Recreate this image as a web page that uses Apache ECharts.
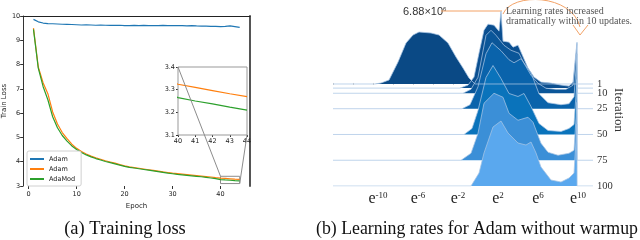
<!DOCTYPE html>
<html><head><meta charset="utf-8">
<script src="https://cdn.jsdelivr.net/npm/echarts@6/dist/echarts.min.js"></script>
<style>html,body{margin:0;padding:0;background:#fff}#c{width:640px;height:240px}</style>
</head><body><div id="c"></div>
<script>
// ---------- data: (a) training loss ----------
const epochs = [1,2,3,4,5,6,7,8,9,10,11,12,13,14,15,16,17,18,19,20,21,22,23,24,25,26,27,28,29,30,31,32,33,34,35,36,37,38,39,40,41,42,43,44];
const adamBlue = [9.86,9.76,9.71,9.69,9.68,9.67,9.66,9.655,9.65,9.64,9.63,9.635,9.63,9.62,9.63,9.62,9.615,9.61,9.62,9.60,9.605,9.61,9.60,9.61,9.60,9.605,9.60,9.61,9.60,9.60,9.605,9.60,9.595,9.60,9.59,9.585,9.58,9.575,9.57,9.565,9.575,9.59,9.56,9.53];
const adamOrange = [9.50,7.90,7.25,6.80,6.05,5.55,5.20,4.95,4.72,4.55,4.42,4.32,4.23,4.16,4.10,4.04,3.99,3.94,3.88,3.83,3.79,3.76,3.73,3.70,3.67,3.64,3.61,3.58,3.555,3.53,3.51,3.49,3.47,3.45,3.43,3.41,3.39,3.37,3.345,3.324,3.31,3.296,3.282,3.269];
const adaMod = [9.45,7.85,7.10,6.55,5.85,5.40,5.08,4.85,4.65,4.50,4.38,4.28,4.20,4.13,4.07,4.01,3.96,3.91,3.86,3.81,3.77,3.74,3.71,3.68,3.65,3.62,3.59,3.56,3.53,3.505,3.48,3.46,3.44,3.42,3.40,3.38,3.355,3.33,3.30,3.265,3.25,3.237,3.223,3.21];
const seriesNames = ['Adam','Adam ','AdaMod'];
const lossTicks = [3,4,5,6,7,8,9,10];
const epochTicks = [0,10,20,30,40];
const insetEpochTicks = [40,41,42,43,44];
const insetLossTicks = [3.1,3.2,3.3,3.4];

// ---------- data: (b) learning-rate histograms (ln lr, density) ----------
const lrTicks = [-10,-6,-2,2,6,10];
const lrMinorTicks = [-14.5,-12.5,-10.5,-8.5,-6.5,-4.5,-2.5,-0.5,1.5,3.5,5.5,7.5,9.5];
const iterTicksA = [1,25,75];
const iterTicksB = [10,50,100];
const iterations = [1,5,10,25,50,75,100];
const hist1 = [[-14.5,0],[-10.3,0],[-9.7,1],[-8.9,4],[-8.0,22],[-7.2,41],[-6.5,49],[-5.9,52],[-4.7,51],[-3.9,49],[-3.0,41],[-2.2,27],[-1.5,16],[-0.9,6],[-0.3,0],[11.5,0]];
const hist5 = [[-14.5,0],[-1.8,0],[-1.0,3],[-0.4,11],[0.1,35],[0.6,58],[1.0,64],[1.6,63],[2.1,57],[2.3,77],[2.5,47],[3.1,46],[3.5,41],[4.0,43],[4.3,36],[5.0,20],[5.6,11],[6.3,6],[7.3,5],[8.3,3],[9.1,2],[9.5,6],[9.9,46],[9.91,0],[11.5,0]];
const hist10 = [[-14.5,0],[-1.5,0],[-0.7,4],[0,16],[0.8,58],[1.3,63],[1.8,58],[2.6,48],[3.3,43],[4.1,40],[4.6,30],[5.3,18],[6.0,10],[6.8,5],[7.8,4],[8.8,4],[9.5,8],[9.9,50],[9.91,0],[11.5,0]];
const hist25 = [[-14.5,0],[-1.6,0],[-0.8,4],[0,22],[0.8,55],[1.4,66],[2.3,58],[3.1,49],[3.6,46],[4.3,50],[5.3,36],[6.1,15],[7.0,6],[8.3,4],[9.1,5],[9.6,12],[9.9,55],[9.91,0],[11.5,0]];
const hist50 = [[-14.5,0],[-1.4,0],[-0.6,6],[0,24],[0.8,57],[1.5,69],[2.3,56],[3.1,41],[4.0,38],[4.6,41],[5.3,28],[6.1,11],[7.0,4],[8.3,3],[9.1,6],[9.6,10],[9.9,55],[9.91,0],[11.5,0]];
const hist75 = [[-14.5,0],[-1.7,0],[-0.7,7],[0,27],[0.6,57],[1.6,67],[2.5,63],[3.1,47],[4.0,40],[5.0,43],[5.5,38],[6.3,17],[7.0,8],[8.0,5],[9.1,7],[9.6,10],[9.9,58],[9.91,0],[11.5,0]];
const hist100 = [[-14.5,0],[-0.7,0],[0.1,13],[0.6,33],[1.5,59],[2.3,65],[3.0,53],[4.0,43],[4.8,41],[5.3,44],[5.8,33],[6.3,19],[7.3,6],[8.3,4],[9.1,8],[9.6,13],[9.9,62],[9.91,0],[11.5,0]];
const histograms = [hist1,hist5,hist10,hist25,hist50,hist75,hist100];

// ---------- styling ----------
const lineColors = ['#1f77b4','#ff7f0e','#2ca02c'];
const ridgeColors = ['#0a4985','#0b4f90','#0b5699','#0a63ab','#0a73bb','#3b8fd7','#5aa8ee'];
const ridgeScale = 0.97;   // iterations of vertical offset per density unit
const sans = 'DejaVu Sans';
const serif = 'Liberation Serif';

const chart = echarts.init(document.getElementById('c'), null, {renderer:'canvas'});

const lossSeries = [adamBlue, adamOrange, adaMod].map((arr, i) => ({
  name: seriesNames[i], type:'line', xAxisIndex:0, yAxisIndex:0,
  data: epochs.map((e, j) => [e, arr[j]]),
  symbol:'none', lineStyle:{color:lineColors[i], width:1.2}, itemStyle:{color:lineColors[i]},
  silent:true, animation:false,
  markArea: i === 1 ? {silent:true, itemStyle:{color:'rgba(0,0,0,0)', borderColor:'#8c8c8c', borderWidth:1},
    data:[[{coord:[insetEpochTicks[0], insetLossTicks[3]]},{coord:[insetEpochTicks[4], insetLossTicks[0]]}]]} : undefined
}));
const insetSeries = [adamOrange, adaMod].map((arr, i) => ({
  type:'line', xAxisIndex:2, yAxisIndex:2,
  data: epochs.map((e, j) => [e, arr[j]]),
  symbol:'none', lineStyle:{color:lineColors[i+1], width:1.2}, silent:true, animation:false, clip:true
}));
const ridgeSeries = histograms.map((h, i) => ({
  type:'line', xAxisIndex:3, yAxisIndex:3,
  data: h.map(([x, d]) => [x, iterations[i] - d * ridgeScale]),
  symbol:'none', silent:true, animation:false,
  lineStyle:{color:'rgba(170,198,228,0.75)', width:1},
  areaStyle:{color:ridgeColors[i], opacity:1, origin:iterations[i]}
}));

const baseGraphic = [
  {type:'text', x:403, y:12, style:{text:'{a|6.88×10}{s|6}', rich:{a:{fontSize:11, fontFamily:'Liberation Sans', fill:'#333'}, s:{fontSize:6, fontFamily:'Liberation Sans', fill:'#333', verticalAlign:'top'}}, verticalAlign:'middle'}},
  {type:'polyline', shape:{points:[[441,11],[502,11]]}, style:{stroke:'#f3a266', lineWidth:1, fill:null}},
  {type:'bezierCurve', shape:{x1:503,y1:14,cpx1:512,cpy1:-8,cpx2:572,cpy2:-6,x2:580,y2:27}, style:{stroke:'#f3a266', lineWidth:1, fill:null}},
  {type:'polyline', shape:{points:[[573,25],[580,35],[588,25]]}, style:{stroke:'#f3a266', lineWidth:1, fill:null}},
  {type:'text', x:506, y:11, style:{text:'Learning rates increased', fontSize:10, fontFamily:serif, fill:'#555', verticalAlign:'middle'}},
  {type:'text', x:506, y:21, style:{text:'dramatically within 10 updates.', fontSize:10, fontFamily:serif, fill:'#555', verticalAlign:'middle'}},
  {type:'text', x:618, y:110, rotation:-Math.PI/2, style:{text:'Iteration', fontSize:13, fontFamily:serif, fill:'#333', align:'center', verticalAlign:'middle'}},
  {type:'text', x:125, y:229, style:{text:'(a) Training loss', fontSize:18.5, fontFamily:serif, fill:'#111', align:'center', verticalAlign:'middle'}},
  {type:'text', x:477, y:229, style:{text:'(b) Learning rates for Adam without warmup', fontSize:17.8, fontFamily:serif, fill:'#111', align:'center', verticalAlign:'middle'}}
];

const iterAxis = (ticks) => ({gridIndex:2, type:'value', position:'right', inverse:true, min:-70.8, max:100,
  axisLine:{show:false}, axisTick:{show:false},
  axisLabel:{customValues:ticks, hideOverlap:false, fontSize:10.5, fontFamily:serif, color:'#333', margin:4},
  splitLine:{show:false}});

const option = {
  backgroundColor:'#fff',
  animation:false,
  grid:[
    {left:23, top:16, width:227, height:170},
    {left:178, top:67, width:69, height:68, show:true, borderColor:'#999', borderWidth:1, backgroundColor:'#fff', z:3},
    {left:333, top:10, width:260, height:176}
  ],
  legend:{
    data:seriesNames, orient:'vertical', left:27, top:151, itemWidth:14, itemHeight:2, itemGap:2,
    icon:'rect', padding:[4,6,3,3], borderColor:'#d0d0d0', borderWidth:1, borderRadius:2, backgroundColor:'#fff',
    textStyle:{fontSize:6.5, fontFamily:sans, color:'#222', lineHeight:8}, selectedMode:false
  },
  xAxis:[
    {gridIndex:0, type:'value', min:-1.15, max:46.15, name:'Epoch', nameLocation:'middle', nameGap:14,
     nameTextStyle:{fontSize:7, fontFamily:sans, color:'#222'},
     axisLine:{show:false}, axisTick:{show:true, length:3, customValues:epochTicks, lineStyle:{color:'#333'}},
     axisLabel:{customValues:epochTicks, fontSize:6.5, fontFamily:sans, color:'#222', margin:5}, splitLine:{show:false}},
    {gridIndex:0, type:'value', position:'top', min:-1.15, max:46.15,
     axisLine:{show:true, onZero:false, lineStyle:{color:'#222', width:1}}, axisTick:{show:false}, axisLabel:{show:false}, splitLine:{show:false}},
    {gridIndex:1, type:'value', min:40, max:44, interval:1,
     axisLine:{show:false}, axisTick:{show:true, length:2, lineStyle:{color:'#333'}},
     axisLabel:{fontSize:6.5, fontFamily:sans, color:'#222', margin:3}, splitLine:{show:false}},
    {gridIndex:2, type:'value', min:-14.5, max:11.5,
     axisLine:{show:false}, axisTick:{show:true, length:2, customValues:lrMinorTicks, lineStyle:{color:'#ccc'}},
     axisLabel:{customValues:lrTicks, margin:5, hideOverlap:false, formatter:v => '{e|e}{s|' + v + '}',
       rich:{e:{fontSize:16, fontFamily:serif, color:'#222', lineHeight:16}, s:{fontSize:9, fontFamily:serif, color:'#222', verticalAlign:'top', lineHeight:10}}},
     splitLine:{show:false}}
  ],
  yAxis:[
    {gridIndex:0, type:'value', min:3, max:10, interval:1, name:'Train Loss', nameLocation:'middle', nameGap:13,
     nameTextStyle:{fontSize:7, fontFamily:sans, color:'#222'},
     axisLine:{show:true, onZero:false, lineStyle:{color:'#333', width:1}}, axisTick:{show:true, length:3, lineStyle:{color:'#333'}},
     axisLabel:{fontSize:6.5, fontFamily:sans, color:'#222', margin:3}, splitLine:{show:false}},
    {gridIndex:0, type:'value', position:'right', min:3, max:10,
     axisLine:{show:true, onZero:false, lineStyle:{color:'#555', width:2}}, axisTick:{show:false}, axisLabel:{show:false}, splitLine:{show:false}},
    {gridIndex:1, type:'value', min:3.1, max:3.4,
     axisLine:{show:false}, axisTick:{show:true, length:2, customValues:insetLossTicks, lineStyle:{color:'#333'}},
     axisLabel:{customValues:insetLossTicks, fontSize:6.5, fontFamily:sans, color:'#222', margin:3, formatter:v => v.toFixed(1)}, splitLine:{show:false}},
    iterAxis(iterTicksA),
    iterAxis(iterTicksB)
  ],
  series:[...lossSeries, ...insetSeries, ...ridgeSeries],
  graphic:baseGraphic
};
chart.setOption(option);

const pIn1 = chart.convertToPixel({xAxisIndex:2, yAxisIndex:2}, [insetEpochTicks[0], insetLossTicks[3]]);
const pMain1 = chart.convertToPixel({xAxisIndex:0, yAxisIndex:0}, [insetEpochTicks[0], insetLossTicks[3]]);
const pIn2 = chart.convertToPixel({xAxisIndex:2, yAxisIndex:2}, [insetEpochTicks[4], insetLossTicks[0]]);
const pMain2 = chart.convertToPixel({xAxisIndex:0, yAxisIndex:0}, [insetEpochTicks[4], insetLossTicks[0]]);
chart.setOption({graphic: baseGraphic.concat([
  {type:'line', z:10, shape:{x1:pIn1[0], y1:pIn1[1], x2:pMain1[0], y2:pMain1[1]}, style:{stroke:'#8c8c8c', lineWidth:1}},
  {type:'line', z:10, shape:{x1:pIn2[0], y1:pIn2[1], x2:pMain2[0], y2:pMain2[1]}, style:{stroke:'#8c8c8c', lineWidth:1}}
])});
</script>
</body></html>
